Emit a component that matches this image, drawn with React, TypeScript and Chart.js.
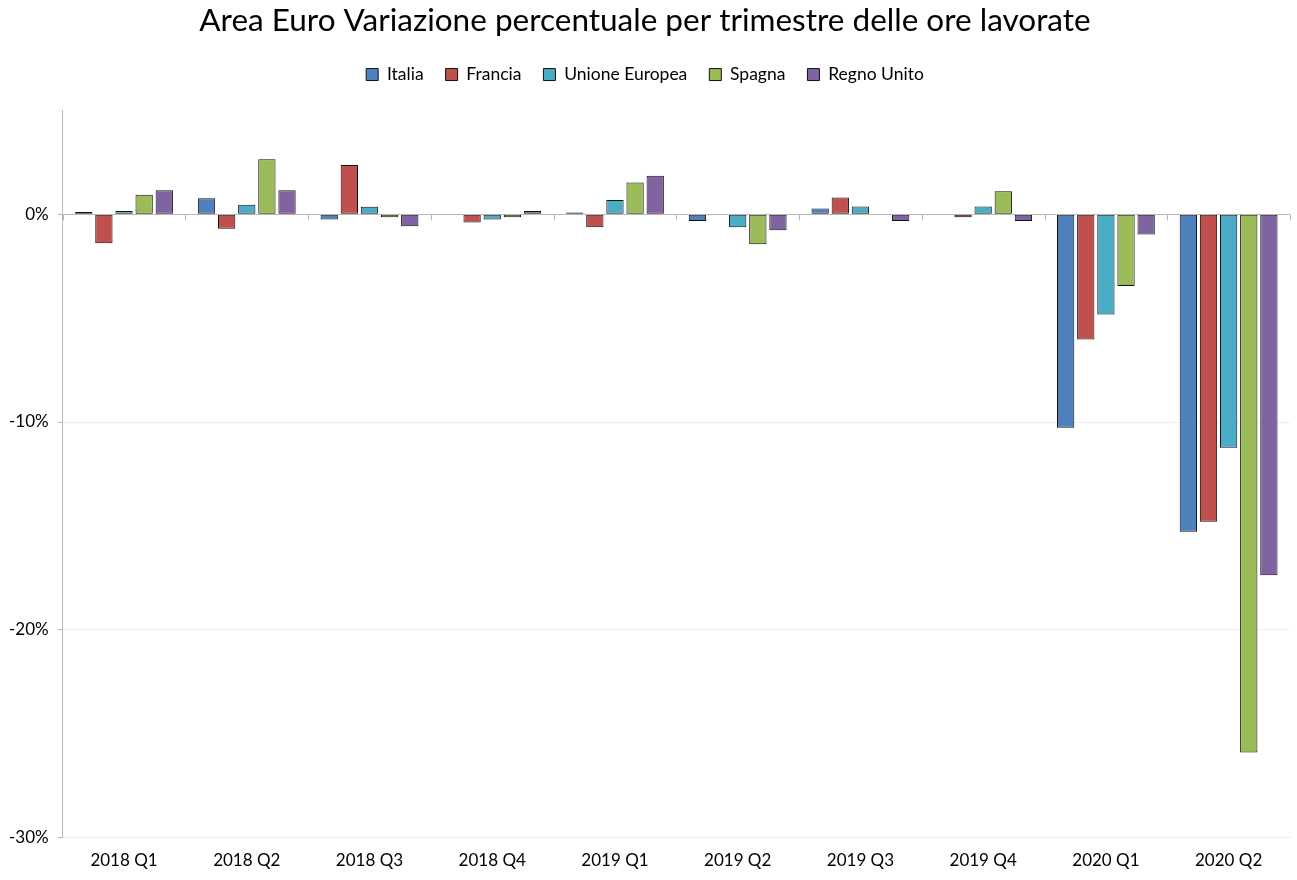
import React, { useEffect, useRef } from "react";
import { Chart, registerables } from "chart.js";

Chart.register(...registerables);

const categories = ["2018 Q1", "2018 Q2", "2018 Q3", "2018 Q4", "2019 Q1", "2019 Q2", "2019 Q3", "2019 Q4", "2020 Q1", "2020 Q2"];
const italia = [0.1, 0.77, -0.25, 0, 0.08, -0.33, 0.28, 0, -10.28, -15.28];
const francia = [-1.4, -0.7, 2.37, -0.4, -0.63, 0, 0.8, -0.15, -6.03, -14.8];
const unioneEuropea = [0.15, 0.46, 0.36, -0.25, 0.68, -0.63, 0.37, 0.37, -4.83, -11.24];
const spagna = [0.93, 2.65, -0.15, -0.15, 1.53, -1.45, 0, 1.1, -3.45, -25.9];
const regnoUnito = [1.15, 1.15, -0.58, 0.15, 1.85, -0.77, -0.33, -0.33, -0.98, -17.38];
const yTicks = [-30, -20, -10, 0];

const FONT = "Lato, 'Open Sans', sans-serif";

const zeroTicks = {
  id: "zeroTicks",
  afterDatasetsDraw(chart: any) {
    const x = chart.scales.x;
    const y = chart.scales.y;
    const ctx = chart.ctx;
    const y0 = Math.round(y.getPixelForValue(0)) + 0.5;
    const step = x.getPixelForValue(1) - x.getPixelForValue(0);
    ctx.save();
    ctx.strokeStyle = "#b8b8b8";
    ctx.lineWidth = 1;
    ctx.beginPath();
    ctx.moveTo(chart.chartArea.left, y0);
    ctx.lineTo(chart.chartArea.right, y0);
    const n = categories.length;
    for (let i = 0; i <= n; i++) {
      const px = x.getPixelForValue(0) - step / 2 + i * step;
      const xx = Math.round(px) + 0.5;
      ctx.moveTo(xx, y0);
      ctx.lineTo(xx, y0 + 6);
    }
    ctx.stroke();
    ctx.restore();
  },
};

const legendSpacer = {
  id: "legendSpacer",
  beforeInit(chart: any) {
    const orig = chart.legend.fit;
    chart.legend.fit = function () {
      orig.bind(chart.legend)();
      this.height += 17;
    };
  },
};

export default function App() {
  const ref = useRef<HTMLCanvasElement | null>(null);
  useEffect(() => {
    if (!ref.current) return;
    const mk = (label: string, data: number[], color: string) => ({
      label,
      data,
      backgroundColor: color,
      borderColor: "#111111",
      borderWidth: 1,
      borderSkipped: false,
      categoryPercentage: 0.82,
      barPercentage: 0.86,
    });
    const chart = new Chart(ref.current, {
      type: "bar",
      data: {
        labels: categories,
        datasets: [
          mk("Italia", italia, "#4F81BD"),
          mk("Francia", francia, "#C0504D"),
          mk("Unione Europea", unioneEuropea, "#4BACC6"),
          mk("Spagna", spagna, "#9BBB59"),
          mk("Regno Unito", regnoUnito, "#8064A2"),
        ],
      },
      options: {
        animation: false,
        responsive: true,
        maintainAspectRatio: false,
        layout: { padding: { left: 0, right: 7, top: 0, bottom: 4 } },
        plugins: {
          title: {
            display: true,
            text: "Area Euro Variazione percentuale per trimestre delle ore lavorate",
            color: "#000",
            font: { family: FONT, size: 31.5, weight: "normal" },
            padding: { top: 2, bottom: 4 },
          },
          legend: {
            display: true,
            labels: {
              color: "#000",
              font: { family: FONT, size: 17.5 },
              boxWidth: 12,
              boxHeight: 12,
              padding: 22,
            },
          },
          tooltip: { enabled: false },
        },
        scales: {
          x: {
            grid: { display: false, drawOnChartArea: false },
            border: { display: true, color: "#eeeeee" },
            ticks: { color: "#000", font: { family: FONT, size: 17 }, padding: 5 },
          },
          y: {
            min: -30,
            max: 5,
            afterBuildTicks: (scale: any) => {
              scale.ticks = yTicks.map((v) => ({ value: v }));
            },
            grid: {
              color: (c: any) => (c.tick && c.tick.value === 0 ? "rgba(0,0,0,0)" : "#eeeeee"),
              tickColor: "#b8b8b8",
              tickLength: 5,
            },
            border: { display: true, color: "#b8b8b8" },
            ticks: {
              color: "#000",
              font: { family: FONT, size: 17 },
              padding: 9,
              callback: (v: any) => v + "%",
            },
          },
        },
      },
      plugins: [zeroTicks, legendSpacer],
    });
    return () => chart.destroy();
  }, []);
  return (
    <div style={{ position: "fixed", left: 0, top: 0, width: 1297, height: 880 }}>
      <canvas ref={ref} />
    </div>
  );
}
